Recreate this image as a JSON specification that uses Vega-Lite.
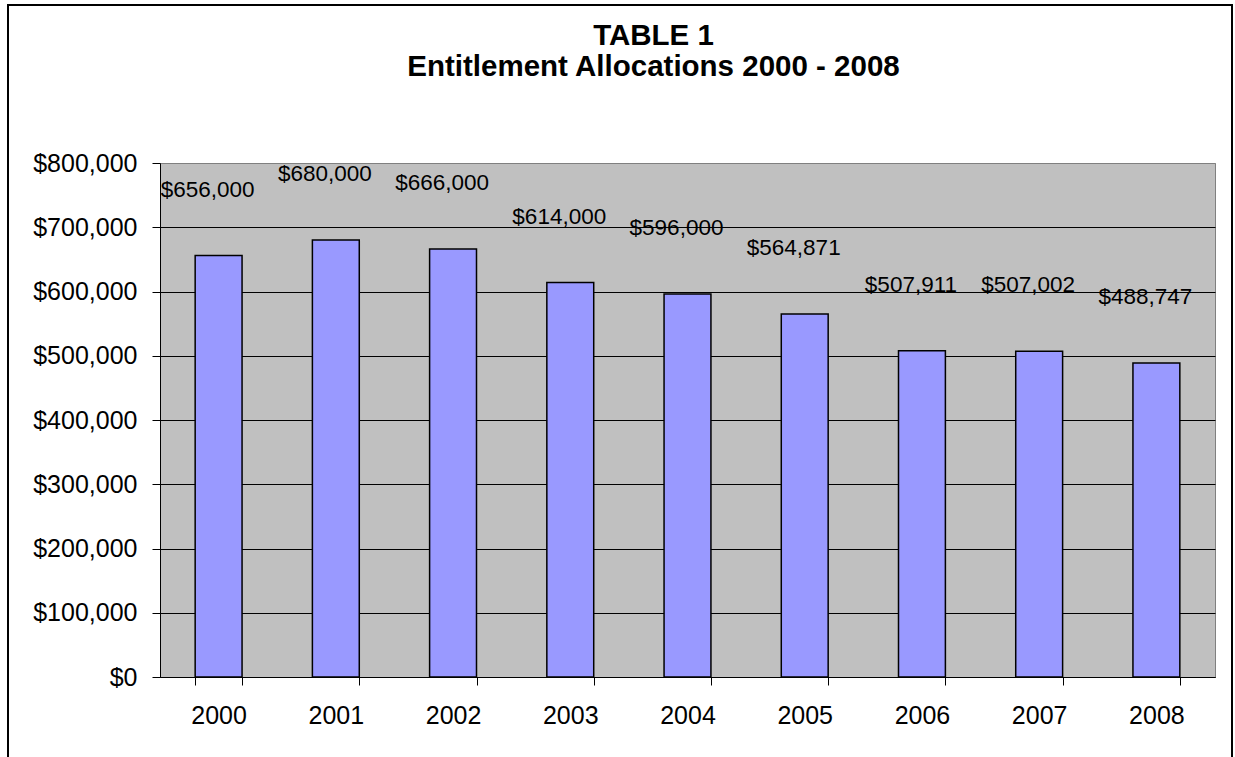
{
  "$schema": "https://vega.github.io/schema/vega-lite/v6.json",
  "width": 1055,
  "height": 514,
  "autosize": {"type": "none"},
  "padding": {"left": 160, "top": 163, "right": 20, "bottom": 80},
  "background": "white",
  "config": {
    "font": "Liberation Sans",
    "view": {"fill": "#C0C0C0", "stroke": "#808080", "strokeWidth": 1}
  },
  "title": {
    "text": ["TABLE 1", "Entitlement Allocations 2000 - 2008"],
    "font": "Liberation Sans",
    "fontSize": 29.5,
    "fontWeight": "bold",
    "color": "black",
    "anchor": "middle",
    "frame": "group",
    "offset": -78,
    "dx": -34,
    "lineHeight": 31
  },
  "datasets": {
    "alloc": [
      {"year": "2000", "value": 656000},
      {"year": "2001", "value": 680000},
      {"year": "2002", "value": 666000},
      {"year": "2003", "value": 614000},
      {"year": "2004", "value": 596000},
      {"year": "2005", "value": 564871},
      {"year": "2006", "value": 507911},
      {"year": "2007", "value": 507002},
      {"year": "2008", "value": 488747}
    ]
  },
  "layer": [
    {
      "data": {"values": [{}]},
      "mark": {"type": "rect", "fillOpacity": 0, "stroke": "black", "strokeWidth": 2},
      "encoding": {
        "x": {"datum": 0, "type": "quantitative", "scale": {"domain": [0, 1], "range": [-152, 1072], "nice": false, "zero": false}, "axis": null},
        "x2": {"datum": 1},
        "y": {"datum": 0, "type": "quantitative", "scale": {"domain": [0, 1], "range": [600, -158], "nice": false, "zero": false}, "axis": null},
        "y2": {"datum": 1}
      }
    },
    {
      "data": {"name": "alloc"},
      "layer": [
        {
          "mark": {"type": "bar", "fill": "#9999FF", "stroke": "black", "strokeWidth": 1.5},
          "encoding": {
            "x": {
              "field": "year",
              "type": "nominal",
              "scale": {"type": "band", "paddingInner": 0.6, "paddingOuter": 0.3},
              "axis": {
                "title": null,
                "labelAngle": 0,
                "tickBand": "extent",
                "labelFontSize": 25,
                "labelFont": "Liberation Sans",
                "labelColor": "black",
                "labelPadding": 18,
                "tickSize": 8,
                "tickColor": "black",
                "domainColor": "black",
                "grid": false
              }
            },
            "y": {
              "field": "value",
              "type": "quantitative",
              "scale": {"domain": [0, 800000], "nice": false},
              "axis": {
                "title": null,
                "values": [0, 100000, 200000, 300000, 400000, 500000, 600000, 700000, 800000],
                "format": "$,.0f",
                "labelFontSize": 25,
                "labelFont": "Liberation Sans",
                "labelColor": "black",
                "labelPadding": 15,
                "tickSize": 8,
                "tickColor": "black",
                "domainColor": "black",
                "grid": true,
                "gridOpacity": 1,
                "gridColor": {"condition": {"test": "datum.value >= 800000", "value": "#808080"}, "value": "black"}
              }
            }
          }
        },
        {
          "mark": {"type": "text", "fontSize": 22.5, "font": "Liberation Sans", "color": "black", "align": "center", "baseline": "alphabetic", "dx": -11, "dy": -59},
          "encoding": {
            "x": {"field": "year", "type": "nominal", "title": null},
            "y": {"field": "value", "type": "quantitative", "title": null},
            "text": {"field": "value", "type": "quantitative", "format": "$,.0f"}
          }
        }
      ]
    }
  ],
  "resolve": {"scale": {"x": "independent", "y": "independent"}}
}
